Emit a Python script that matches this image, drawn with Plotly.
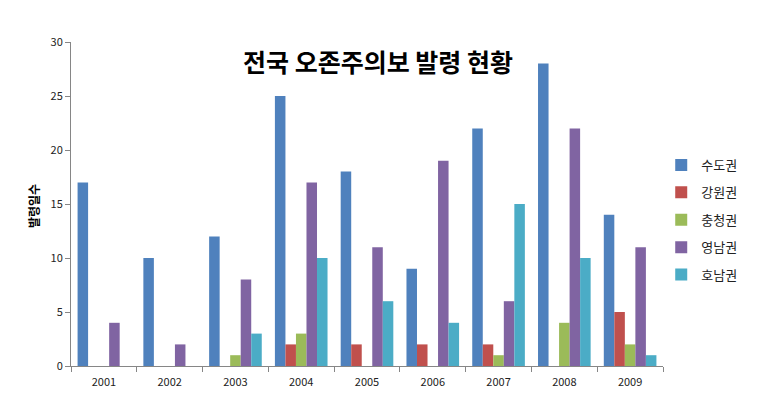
import plotly.graph_objects as go

years = ["2001", "2002", "2003", "2004", "2005", "2006", "2007", "2008", "2009"]
series_names = ["수도권", "강원권", "충청권", "영남권", "호남권"]
sudo = [17, 10, 12, 25, 18, 9, 22, 28, 14]
gangwon = [0, 0, 0, 2, 2, 2, 2, 0, 5]
chungcheong = [0, 0, 1, 3, 0, 0, 1, 4, 2]
yeongnam = [4, 2, 8, 17, 11, 19, 6, 22, 11]
honam = [0, 0, 3, 10, 6, 4, 15, 10, 1]
colors = ["#4F81BD", "#C0504D", "#9BBB59", "#8064A2", "#4BACC6"]
values = [sudo, gangwon, chungcheong, yeongnam, honam]

font = "Noto Sans CJK KR"
fig = go.Figure()
for name, vals, c in zip(series_names, values, colors):
    fig.add_trace(go.Bar(x=years, y=vals, name=name, legendgroup=name,
                         marker=dict(color=c, line=dict(width=0))))

fig.update_layout(
    width=773, height=409,
    margin=dict(l=71, r=110, t=42, b=43),
    paper_bgcolor="white", plot_bgcolor="white",
    barmode="group", bargap=0.2, bargroupgap=0,
    font=dict(family=font, size=11, color="#222"),
    showlegend=True,
    legend=dict(x=0.997, y=(366 - 150) / 324, xanchor="left", yanchor="top",
                font=dict(size=13, color="#222"), tracegroupgap=7.5,
                itemwidth=30, traceorder="grouped"),
    annotations=[
        dict(text="<b>전국 오존주의보 발령 현황</b>", x=(378 - 71) / 592, y=(366 - 61) / 324,
             xref="paper", yref="paper", xanchor="center", yanchor="middle",
             showarrow=False, font=dict(size=25, color="black", family=font)),
        dict(text="<b>발령일수</b>", x=(33 - 71) / 592, y=(366 - 206) / 324,
             xref="paper", yref="paper", xanchor="center", yanchor="middle",
             showarrow=False, textangle=-90, font=dict(size=12, color="black", family=font)),
    ],
)
fig.update_xaxes(showline=True, linecolor="#868686", linewidth=1, ticks="outside",
                 tickson="boundaries", ticklen=5, tickcolor="#868686", ticklabelstandoff=6,
                 tickfont=dict(size=11, color="#222"), showgrid=False)
fig.update_yaxes(range=[0, 30], dtick=5, showline=True, linecolor="#868686", linewidth=1,
                 ticks="outside", ticklen=5, tickcolor="#868686", showgrid=False,
                 zeroline=False, tickfont=dict(size=11, color="#222"))
fig.write_html("out.html")
